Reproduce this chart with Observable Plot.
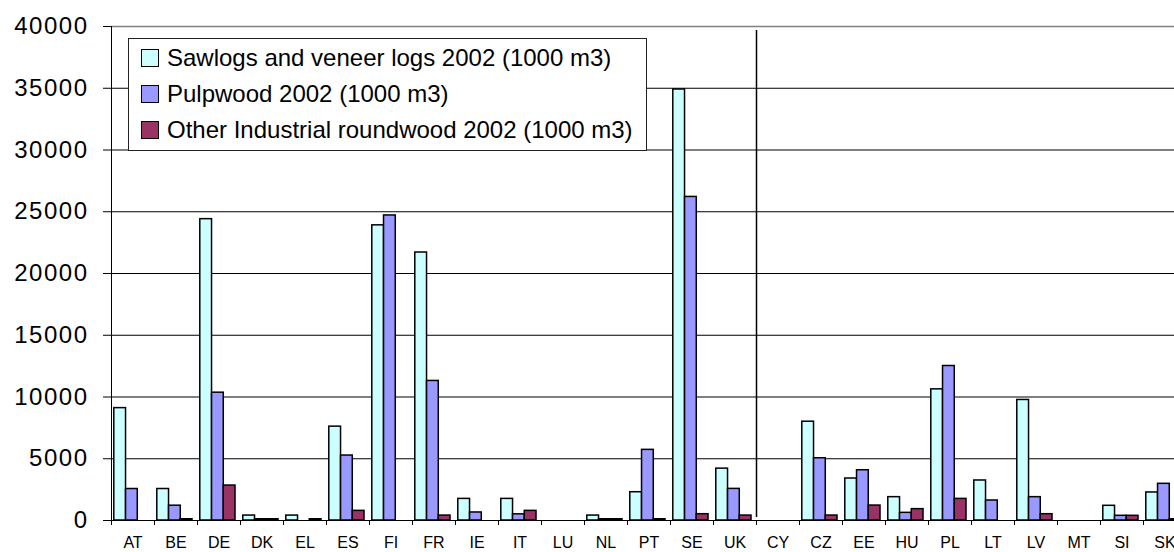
<!DOCTYPE html>
<html>
<head>
<meta charset="utf-8">
<script src="https://cdn.jsdelivr.net/npm/d3@7"></script>
<script src="https://cdn.jsdelivr.net/npm/@observablehq/plot@0.6"></script>
<style>
  html, body { margin: 0; padding: 0; overflow: hidden; background: #fff; }
  #wrap { position: relative; width: 1187px; height: 552px; font-family: "Liberation Sans", Arial, sans-serif; }
  #wrap svg { max-width: none !important; }
  #wrap g[aria-label="y-axis tick label"] text { letter-spacing: 1.5px; }
  #legend {
    position: absolute; left: 128px; top: 38px; width: 519px; height: 113px;
    border: 1px solid #222; background: #fff; box-sizing: border-box;
    padding-top: 1px; padding-left: 12px;
    font: 24px "Liberation Sans", Arial, sans-serif; color: #000;
  }
  #legend .row { height: 36px; display: flex; align-items: center; white-space: nowrap; }
  #legend .sw { width: 16px; height: 16px; border: 1px solid #000; margin-right: 8px; flex: none; }
</style>
</head>
<body>
<div id="wrap"></div>
<script>
const countries = ["AT","BE","DE","DK","EL","ES","FI","FR","IE","IT","LU","NL","PT","SE","UK",
                   "CY","CZ","EE","HU","PL","LT","LV","MT","SI","SK"];
const sawlogs   = [9100, 2550, 24400, 400, 400, 7600, 23900, 21700, 1750, 1750, 0, 400, 2290, 34900, 4200,
                   0, 8000, 3400, 1890, 10620, 3240, 9760, 0, 1190, 2270];
const pulpwood  = [2550, 1200, 10350, 100, 0, 5260, 24700, 11300, 650, 500, 0, 100, 5720, 26200, 2560,
                   0, 5040, 4070, 620, 12510, 1620, 1890, 0, 380, 2970];
const otherInd  = [0, 100, 2830, 100, 100, 780, 0, 400, 0, 780, 0, 100, 100, 510, 400,
                   0, 400, 1210, 920, 1750, 0, 510, 0, 380, 100];
const seriesNames = ["Sawlogs and veneer logs 2002 (1000 m3)", "Pulpwood 2002 (1000 m3)", "Other Industrial roundwood 2002 (1000 m3)"];
const seriesColors = ["#CCFFFF", "#9999FF", "#993366"];
const yTicks = [0, 5000, 10000, 15000, 20000, 25000, 30000, 35000, 40000];
const separatorBefore = "CY";

const seriesValues = [sawlogs, pulpwood, otherInd];
const rows = countries.flatMap((c, i) => seriesValues.map((vals, k) => ({
  country: c, i, k, series: seriesNames[k], value: vals[i]
}))).filter(d => d.value > 0);

// bar layout within each category slot (fractions of a category)
const groupInset = 0.065, barFrac = 0.273;

const n = countries.length;
const plot = Plot.plot({
  width: 1187, height: 552,
  marginLeft: 111, marginRight: 1, marginTop: 26, marginBottom: 32,
  style: { fontFamily: "'Liberation Sans', Arial, sans-serif", color: "#000", background: "#fff", maxWidth: "none" },
  x: { type: "linear", domain: [0, n] },
  y: { domain: [0, 40000] },
  color: { domain: seriesNames, range: seriesColors },
  marks: [
    Plot.ruleY(yTicks.filter(v => v > 0 && v < 40000), { stroke: "#000", strokeWidth: 1 }),
    Plot.ruleY([40000], { stroke: "#808080", strokeWidth: 1.5 }),
    Plot.rectY(rows, {
      x1: d => d.i + groupInset + d.k * barFrac,
      x2: d => d.i + groupInset + (d.k + 1) * barFrac,
      y1: 0, y2: "value",
      fill: "series", stroke: "#000", strokeWidth: 1.5
    }),
    Plot.ruleY([0], { stroke: "#000", strokeWidth: 1 }),
    Plot.ruleX([0], { stroke: "#000", strokeWidth: 1 }),
    Plot.ruleX([countries.indexOf(separatorBefore)], { stroke: "#000", strokeWidth: 1.5, insetTop: 4, insetBottom: 3 }),
    Plot.axisY({ ticks: yTicks, tickSize: 8, tickPadding: 15, fontSize: 24, tickFormat: d => String(d), label: null }),
    Plot.axisX({ ticks: d3.range(0, n + 1), tickSize: 5, tickFormat: () => "", label: null }),
    Plot.axisX({ ticks: countries.map((_, i) => i + 0.5), tickSize: 0, tickPadding: 16, fontSize: 16,
                 tickFormat: v => countries[Math.floor(v)], label: null })
  ]
});
const wrap = document.getElementById("wrap");
wrap.appendChild(plot);

const legend = document.createElement("div");
legend.id = "legend";
seriesNames.forEach((name, k) => {
  const row = document.createElement("div");
  row.className = "row";
  const sw = document.createElement("span");
  sw.className = "sw";
  sw.style.background = seriesColors[k];
  const tx = document.createElement("span");
  tx.textContent = name;
  row.appendChild(sw); row.appendChild(tx);
  legend.appendChild(row);
});
wrap.appendChild(legend);
</script>
</body>
</html>
